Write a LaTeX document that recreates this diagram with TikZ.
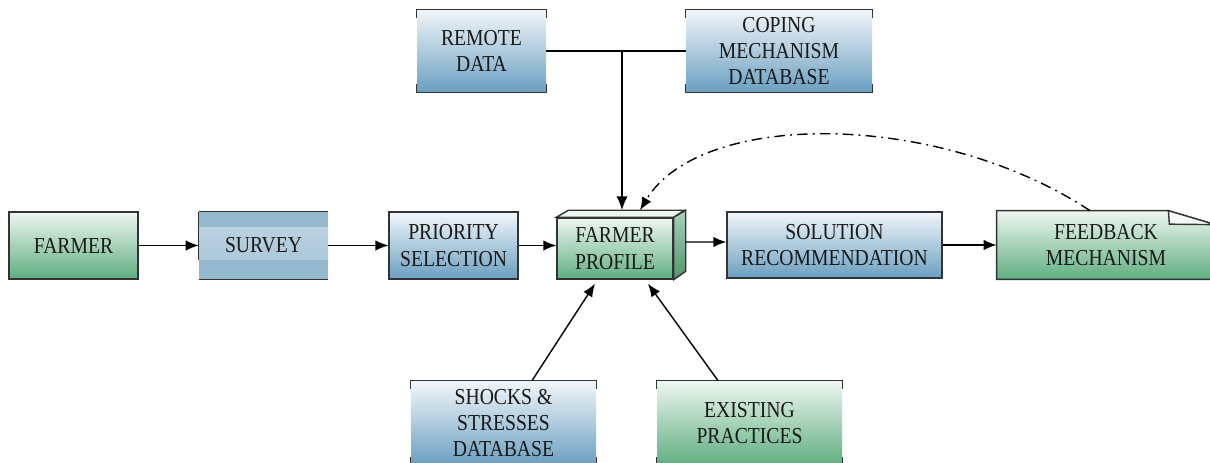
\documentclass[tikz,border=0pt]{standalone}
\usepackage{fontspec}
\setmainfont[FakeStretch=0.86]{Liberation Serif}
\usetikzlibrary{positioning}
\usetikzlibrary{arrows.meta}
\usetikzlibrary{backgrounds}

\definecolor{paleblue}{HTML}{F2F6FA}
\definecolor{boxblue}{HTML}{6A9FC0}
\definecolor{palegreen}{HTML}{EEF6F0}
\definecolor{boxgreen}{HTML}{5FAE80}
\definecolor{surveyblue}{HTML}{94B9CF}
\definecolor{edgegray}{HTML}{333333}

\tikzset{
  boxtext/.style={font=\fontsize{13}{15}\selectfont, align=center, text=black!90},
  bluebox/.style={boxtext, top color=paleblue, bottom color=boxblue, draw=edgegray, thick, minimum height=1.34cm},
  greenbox/.style={boxtext, top color=palegreen, bottom color=boxgreen, draw=edgegray, thick, minimum height=1.34cm},
  bracketbox/.style={boxtext, minimum height=1.64cm},
  arrow/.style={-{Latex[length=2.6mm, width=2.1mm]}, thick},
}

\begin{document}
\begin{tikzpicture}
  \useasboundingbox (0,0) rectangle (24.2,9.24);

  % main row
  \node[greenbox, minimum width=2.58cm] (farmer) at (1.47,4.33) {FARMER};
  \node[boxtext, fill=surveyblue, minimum width=2.58cm, minimum height=1.34cm, right=1.2cm of farmer,
        path picture={\shade[top color=surveyblue!60!white, bottom color=surveyblue!85!white] ([yshift=-0.32cm]path picture bounding box.north west) rectangle ([yshift=0.38cm]path picture bounding box.south east);}] (survey) {SURVEY};
  \node[bluebox, minimum width=2.58cm, right=1.2cm of survey] (priority) {PRIORITY\\SELECTION};
  \node[greenbox, minimum width=2.32cm, minimum height=1.22cm] (profile) at (12.3,4.27) {FARMER\\PROFILE};
  \node[bluebox, minimum width=4.3cm, minimum height=1.32cm] (solution) at (16.69,4.34) {SOLUTION\\RECOMMENDATION};
  \node[boxtext, minimum width=4.36cm, minimum height=1.36cm] (feedback) at (22.12,4.34) {FEEDBACK\\MECHANISM};

  % sources
  \node[bracketbox, top color=paleblue, bottom color=boxblue, minimum width=2.58cm] (remote) at (9.63,8.22) {REMOTE\\DATA};
  \node[bracketbox, top color=paleblue, bottom color=boxblue, minimum width=3.72cm] (coping) at (15.58,8.22) {COPING\\MECHANISM\\DATABASE};
  \node[bracketbox, top color=paleblue, bottom color=boxblue, minimum width=3.7cm, minimum height=1.68cm] (shocks) at (10.07,0.78) {SHOCKS \&\\STRESSES\\DATABASE};
  \node[bracketbox, top color=palegreen, bottom color=boxgreen, minimum width=3.7cm, minimum height=1.68cm] (existing) at (14.99,0.78) {EXISTING\\PRACTICES};

  \foreach \n in {remote,coping,shocks,existing} {
    \draw[thick, edgegray] ([yshift=-0.16cm]\n.north west) -- (\n.north west) -- (\n.north east) -- ([yshift=-0.16cm]\n.north east);
    \draw[thick, edgegray] ([yshift=0.16cm]\n.south west) -- (\n.south west) -- (\n.south east) -- ([yshift=0.16cm]\n.south east);
  }

  % survey edges
  \draw[thick, edgegray] (survey.north west) -- (survey.north east);
  \draw[thick, edgegray] (survey.south west) -- (survey.south east);
  \draw[thick, edgegray] (survey.north west) -- ([yshift=0.38cm]survey.south west);

  % profile as a box
  \draw[thick, edgegray, fill=palegreen] (profile.north west) -- ++(0.24,0.14) -- ++(2.32,0) -- (profile.north east) -- cycle;
  \shade[draw=edgegray, thick, top color=boxgreen!55!white, bottom color=boxgreen!85!black] (profile.north east) -- ++(0.24,0.14) -- ++(0,-1.22) -- (profile.south east) -- cycle;

  % feedback sheet with folded corner
  \begin{scope}[on background layer]
    \shade[top color=palegreen, bottom color=boxgreen, draw=edgegray, thick] (feedback.south east) -- (feedback.south west) -- (feedback.north west) -- ([xshift=-0.94cm]feedback.north east) -- ([yshift=-0.28cm]feedback.north east) -- cycle;
  \end{scope}
  \draw[thick, edgegray, fill=palegreen!60] ([xshift=-0.94cm]feedback.north east) -- ([xshift=-0.92cm,yshift=-0.27cm]feedback.north east) -- ([yshift=-0.28cm]feedback.north east) -- cycle;

  % connectors
  \draw[arrow] (farmer) -- (survey);
  \draw[arrow] (survey) -- (priority);
  \draw[arrow] (priority) -- (priority -| profile.west);
  \draw[arrow] ([xshift=0.24cm,yshift=0.13cm]profile.east) -- ([yshift=0.06cm]solution.west);
  \draw[arrow] (solution) -- (feedback);

  \coordinate (join) at (12.44,8.22);
  \coordinate (proftop) at ([yshift=0.14cm]profile.north);
  \draw[thick] (remote.east) -- (join);
  \draw[thick] (coping.west) -- (join);
  \draw[-{Latex[length=2.8mm, width=2.3mm]}, very thick] (join) -- (join |- proftop);

  \draw[arrow] ([xshift=0.57cm]shocks.north) -- ([xshift=-0.4cm,yshift=-0.08cm]profile.south);
  \draw[arrow] ([xshift=-0.63cm]existing.north) -- ([xshift=0.66cm,yshift=-0.08cm]profile.south);

  \draw[arrow, dash pattern=on 6pt off 3pt on 1pt off 3pt] ([xshift=-0.32cm]feedback.north) .. controls (18.74,7.04) and (14.0,7.04) .. ([xshift=0.5cm,yshift=0.14cm]profile.north);
\end{tikzpicture}
\end{document}
